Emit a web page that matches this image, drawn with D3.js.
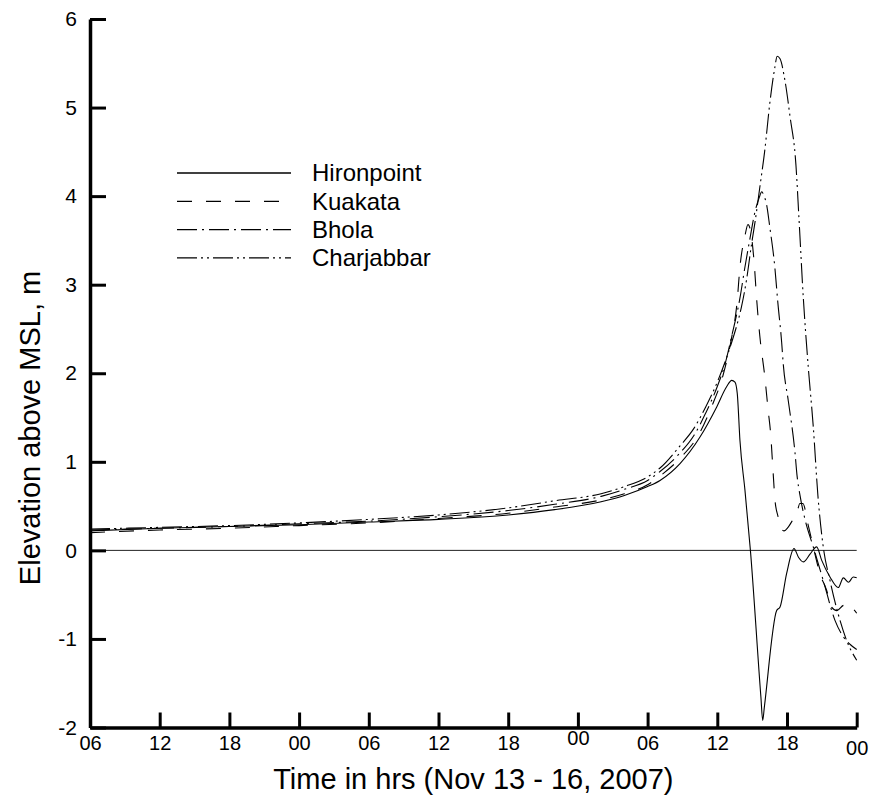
<!DOCTYPE html>
<html>
<head>
<meta charset="utf-8">
<script src="https://cdn.jsdelivr.net/npm/d3@7"></script>
<style>
  html, body { margin: 0; padding: 0; background: #fff; }
  svg { display: block; }
  text { font-family: "Liberation Sans", Arial, sans-serif; fill: #000; }
</style>
</head>
<body>
<svg id="chart" width="869" height="800"></svg>
<script>
// ---------------- data ----------------
const seriesNames = ["Hironpoint", "Kuakata", "Bhola", "Charjabbar"];

// hours since 06:00 Nov 13, 2007
const hironHours = [0,6,12,18,24,30,36,40,44,46,48,49.07,50.79,52.51,53.95,54.81,55.24,55.52,55.72,55.95,56.38,56.85,57.75,57.91,58.05,59.11,59.4,59.97,60.6,61.0,61.4,62.0,62.55,62.98,63.7,64.41,64.85,65.3,65.7,66];
const hironElev  = [0.22,0.25,0.27,0.29,0.32,0.35,0.40,0.46,0.55,0.62,0.72,0.79,0.98,1.28,1.62,1.85,1.92,1.90,1.77,1.24,0.68,0.0,-1.65,-1.92,-1.77,-0.68,-0.64,-0.26,0.02,-0.08,-0.13,-0.04,0.04,-0.11,-0.30,-0.42,-0.31,-0.36,-0.30,-0.31];

const kuakataHours = [0,6,12,18,24,30,36,40,44,46,48,49.07,50.79,52.5,53.5,54.5,55.2,55.7,55.95,56.38,56.64,56.9,57.2,57.38,57.66,58.09,58.38,58.59,58.81,58.97,59.23,59.4,59.75,60.09,60.52,60.86,61.11,61.37,61.8,62.26,62.83,63.41,63.84,64.3,64.9,65.3,65.6,66];
const kuakataElev  = [0.20,0.23,0.25,0.28,0.31,0.36,0.42,0.49,0.57,0.64,0.74,0.84,1.04,1.33,1.62,1.98,2.38,2.8,3.2,3.55,3.68,3.58,3.2,2.85,2.42,1.96,1.58,1.32,0.87,0.56,0.38,0.27,0.22,0.26,0.35,0.43,0.53,0.53,0.30,0.04,-0.26,-0.45,-0.64,-0.68,-0.62,-0.68,-0.66,-0.71];

const bholaHours = [0,6,12,18,24,30,36,40,44,46,48,49.07,50.79,52.0,53.0,54.0,54.7,55.24,55.95,56.38,56.81,57.24,57.6,57.83,58.0,58.25,58.52,58.95,59.21,59.54,59.68,60.11,60.69,60.86,61.12,61.55,62.26,63.12,64.13,64.82,65.42,66];
const bholaElev  = [0.23,0.25,0.27,0.30,0.33,0.38,0.45,0.52,0.61,0.69,0.79,0.89,1.10,1.30,1.55,1.85,2.12,2.42,2.85,3.2,3.52,3.82,3.98,4.05,4.01,3.9,3.65,3.2,2.8,2.35,2.1,1.69,1.1,0.85,0.62,0.35,0.04,-0.34,-0.79,-0.97,-1.06,-1.12];

const charjabbarHours = [0,6,12,18,24,30,36,40,44,46,48,49.07,50.79,52.0,53.0,54.0,54.81,55.24,55.7,56.08,56.51,56.94,57.24,57.66,58.09,58.52,58.95,59.15,59.4,59.83,60.26,60.77,61.03,61.4,61.83,62.26,62.66,63.12,63.7,64.41,65.14,66];
const charjabbarElev  = [0.24,0.26,0.28,0.31,0.35,0.40,0.48,0.56,0.64,0.72,0.83,0.93,1.18,1.38,1.62,1.90,2.18,2.35,2.55,2.75,3.05,3.45,3.7,4.1,4.52,5.05,5.45,5.58,5.55,5.3,4.9,4.35,3.75,2.86,2.07,1.4,0.62,0.04,-0.34,-0.72,-1.02,-1.24];

const xTickHours  = [0,6,12,18,24,30,36,42,48,54,60,66];
const xTickLabels = ["06","12","18","00","06","12","18","00","06","12","18","00"];
const yTicks = [-2,-1,0,1,2,3,4,5,6];

const xTitle = "Time in hrs (Nov 13 - 16, 2007)";
const yTitle = "Elevation above MSL, m";

// ---------------- chart ----------------
const svg = d3.select("#chart");
const x = d3.scaleLinear().domain([0, 66]).range([90, 856.7]);
const y = d3.scaleLinear().domain([-2, 6]).range([727.5, 19]);

const dashes = ["none", "15,14", "20,5,2,5", "20,4,2,4,2,4"];

const series = [
  {name: seriesNames[0], hours: hironHours, elev: hironElev},
  {name: seriesNames[1], hours: kuakataHours, elev: kuakataElev},
  {name: seriesNames[2], hours: bholaHours, elev: bholaElev},
  {name: seriesNames[3], hours: charjabbarHours, elev: charjabbarElev}
];

// zero line
svg.append("line")
  .attr("x1", x(0)).attr("x2", x(66))
  .attr("y1", y(0)).attr("y2", y(0))
  .attr("stroke", "#222").attr("stroke-width", 1);

const line = d3.line()
  .x(d => x(d[0])).y(d => y(d[1]))
  .curve(d3.curveMonotoneX);

series.forEach((s, i) => {
  const pts = s.hours.map((h, k) => [h, s.elev[k]]);
  svg.append("path")
    .datum(pts)
    .attr("d", line)
    .attr("fill", "none")
    .attr("stroke", "#000")
    .attr("stroke-width", 1.1)
    .attr("stroke-dasharray", dashes[i]);
});

// axes
const xAxis = d3.axisBottom(x)
  .tickValues(xTickHours)
  .tickFormat((d, i) => xTickLabels[i])
  .tickSizeInner(-15).tickSizeOuter(0).tickPadding(8);
const gx = svg.append("g").attr("transform", `translate(0,${y(-2)})`).call(xAxis);
gx.select(".domain").attr("stroke-width", 3.5);
gx.selectAll(".tick line").attr("stroke-width", 3);
gx.selectAll(".tick text")
  .attr("font-size", 20)
  .attr("transform", (d, i) => i === 7 ? "translate(0,-5)" : (i === 11 ? "translate(0,5)" : null))
  .style("font-family", "Liberation Sans, Arial, sans-serif");

const yAxis = d3.axisLeft(y)
  .tickValues(yTicks)
  .tickFormat(d => String(d))
  .tickSizeInner(-16).tickSizeOuter(0).tickPadding(13);
const gy = svg.append("g").attr("transform", `translate(${x(0)},0)`).call(yAxis);
gy.select(".domain").attr("stroke-width", 3.5);
gy.selectAll(".tick line").attr("stroke-width", 3);
gy.selectAll(".tick text").attr("font-size", 21).style("font-family", "Liberation Sans, Arial, sans-serif");

// titles
svg.append("text")
  .attr("x", (x(0) + x(66)) / 2).attr("y", 789)
  .attr("text-anchor", "middle").attr("font-size", 29)
  .text(xTitle);
svg.append("text")
  .attr("transform", `translate(40,428) rotate(-90)`)
  .attr("text-anchor", "middle").attr("font-size", 29)
  .text(yTitle);

// legend
const legend = svg.append("g");
series.forEach((s, i) => {
  const ly = 173 + i * 28.3;
  legend.append("line")
    .attr("x1", 177).attr("x2", 291).attr("y1", ly).attr("y2", ly)
    .attr("stroke", "#000").attr("stroke-width", 1.3)
    .attr("stroke-dasharray", dashes[i]);
  legend.append("text")
    .attr("x", 312).attr("y", ly).attr("dy", "0.35em")
    .attr("font-size", 24)
    .text(s.name);
});
</script>
</body>
</html>
